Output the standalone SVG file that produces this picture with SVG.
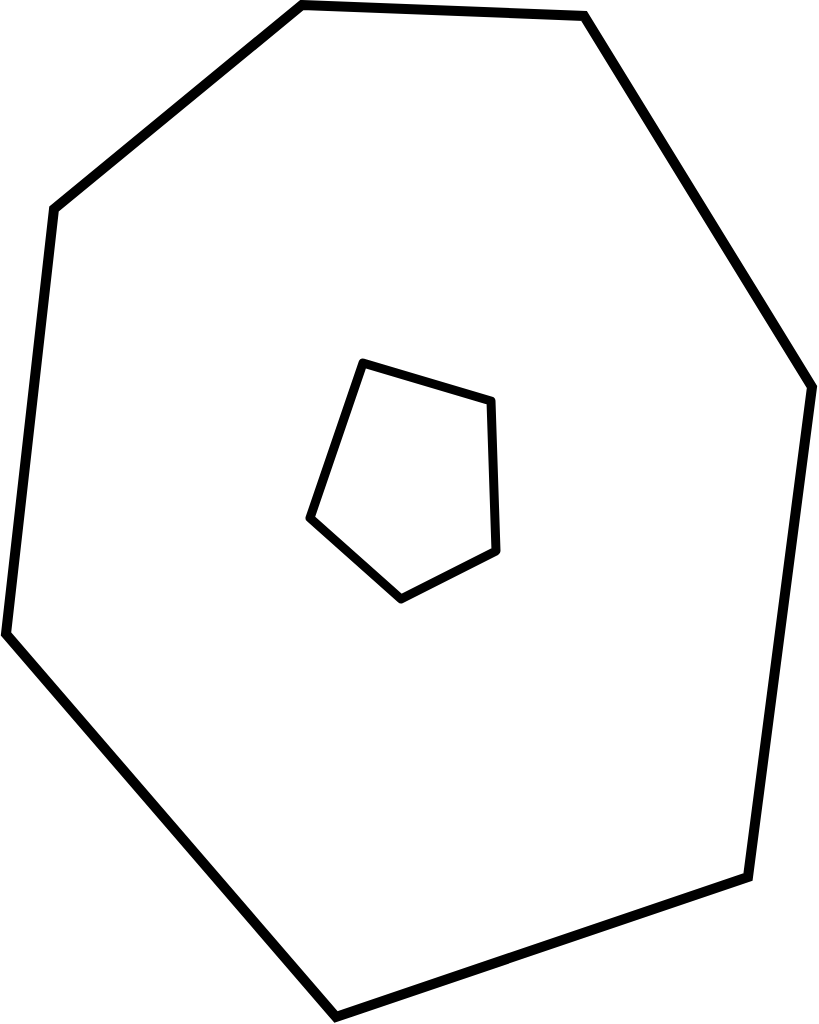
<svg xmlns="http://www.w3.org/2000/svg" width="819" height="1024" viewBox="0 0 819 1024">
<style>
.shape{fill:none;stroke:#000;}
</style>
<rect width="819" height="1024" fill="#fff"/>
<g id="outer">
<polygon class="shape" stroke-width="10" stroke-linejoin="miter" points="302,5 584,16 812,387 748,877 336,1017 6,634 54,209"/>
</g>
<g id="inner">
<polygon class="shape" stroke-width="9" stroke-linejoin="round" points="363,363 491,401 496,551 401,599 310,518"/>
</g>
</svg>
